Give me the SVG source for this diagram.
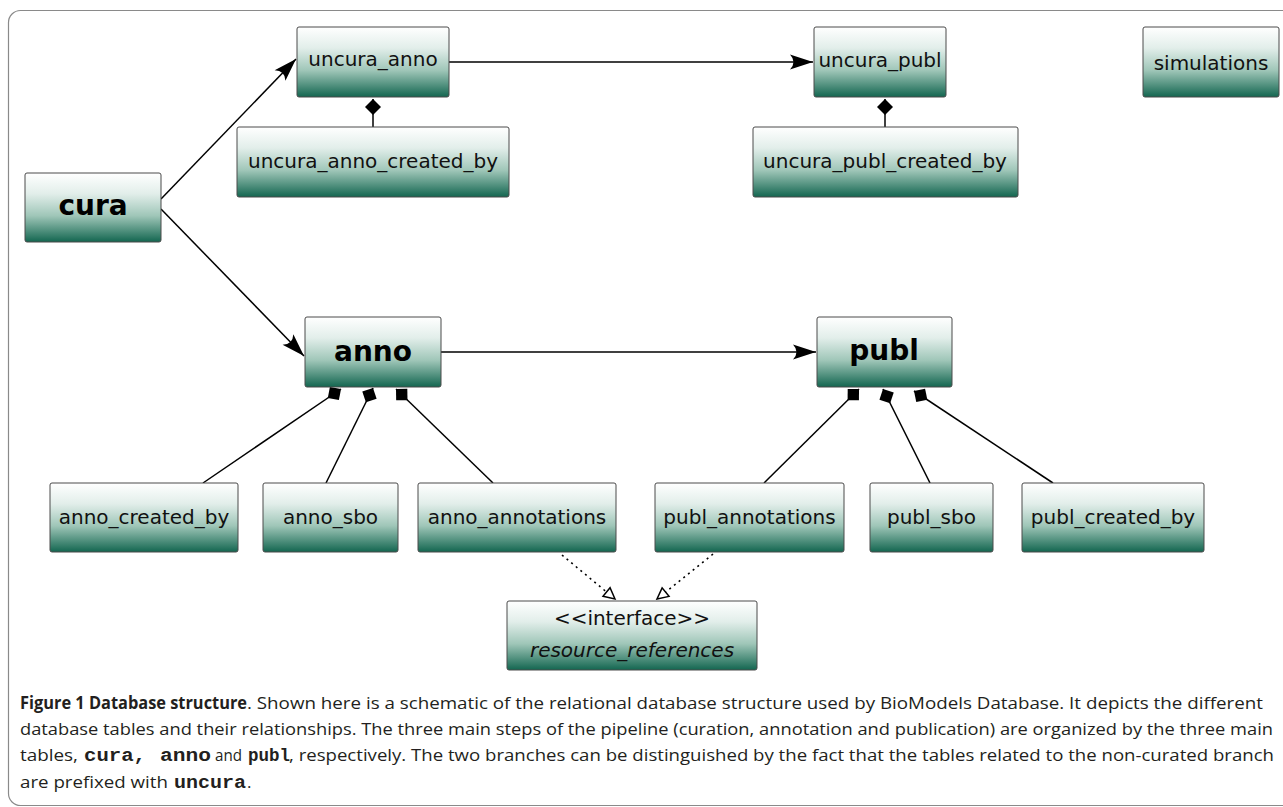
<svg xmlns="http://www.w3.org/2000/svg" width="1283" height="807" viewBox="0 0 1283 807">
<defs>
<linearGradient id="g" x1="0" y1="0" x2="0" y2="1">
<stop offset="0" stop-color="#ffffff"/>
<stop offset="0.3" stop-color="#e2eeea"/>
<stop offset="0.62" stop-color="#9fc6b8"/>
<stop offset="1" stop-color="#136650"/>
</linearGradient>
<marker id="arr" markerUnits="userSpaceOnUse" viewBox="-24 -9 26 18" refX="0" refY="0" markerWidth="26" markerHeight="18" orient="auto" overflow="visible">
<path d="M0,0 L-23,-7.5 Q-16,0 -23,7.5 Z" fill="#000"/>
</marker>
<marker id="dia" markerUnits="userSpaceOnUse" viewBox="-17 -9 18 18" refX="0" refY="0" markerWidth="18" markerHeight="18" orient="auto" overflow="visible">
<path d="M0,0 L-8,-8 L-16,0 L-8,8 Z" fill="#000"/>
</marker>
<marker id="tri" markerUnits="userSpaceOnUse" viewBox="-13 -7 14 14" refX="0" refY="0" markerWidth="14" markerHeight="14" orient="auto" overflow="visible">
<path d="M0,0 L-11,-5.5 L-11,5.5 Z" fill="#fff" stroke="#000" stroke-width="1.5" stroke-linejoin="miter"/>
</marker>
</defs>
<style>
.box{fill:url(#g);stroke:#4a4a4a;stroke-width:1}
.t{font-family:"DejaVu Sans",sans-serif;font-size:20px;fill:#111;text-anchor:middle}
.b{font-family:"DejaVu Sans",sans-serif;font-size:28px;font-weight:bold;fill:#000;text-anchor:middle}
.ln{fill:none;stroke:#000;stroke-width:1.5}
.dot{fill:none;stroke:#000;stroke-width:1.6;stroke-dasharray:2 4}
.cap{font-family:"Open Sans",sans-serif;font-size:17px;fill:#231f20}
.mono{font-family:"Liberation Mono",monospace;font-size:19px;font-weight:bold;fill:#231f20}
</style>
<rect x="8.5" y="10.5" width="1300" height="795" rx="12" fill="#fff" stroke="#8a8a8a" stroke-width="1.2"/>

<g id="connectors">
<line class="ln" x1="161" y1="199" x2="296" y2="59" marker-end="url(#arr)"/>
<line class="ln" x1="161" y1="209" x2="304" y2="356" marker-end="url(#arr)"/>
<line class="ln" x1="449" y1="62" x2="813" y2="62" marker-end="url(#arr)"/>
<line class="ln" x1="441" y1="352" x2="816" y2="352" marker-end="url(#arr)"/>
<line class="ln" x1="373" y1="127" x2="373" y2="99" marker-end="url(#dia)"/>
<line class="ln" x1="885" y1="127" x2="885" y2="99" marker-end="url(#dia)"/>
<line class="ln" x1="203" y1="483" x2="341" y2="389" marker-end="url(#dia)"/>
<line class="ln" x1="326" y1="483" x2="373" y2="388" marker-end="url(#dia)"/>
<line class="ln" x1="493" y1="483" x2="396" y2="389" marker-end="url(#dia)"/>
<line class="ln" x1="764" y1="483" x2="859" y2="389" marker-end="url(#dia)"/>
<line class="ln" x1="930" y1="483" x2="883" y2="389" marker-end="url(#dia)"/>
<line class="ln" x1="1053" y1="483" x2="914" y2="391" marker-end="url(#dia)"/>
<line class="dot" x1="562" y1="555" x2="615" y2="599" marker-end="url(#tri)"/>
<line class="dot" x1="713" y1="554" x2="657" y2="599" marker-end="url(#tri)"/>
</g>

<g id="uncura_anno"><rect class="box" x="297" y="27" width="152" height="70" rx="2"/><text class="t" x="373" y="66">uncura_anno</text></g>
<g id="uncura_publ"><rect class="box" x="814" y="27" width="132" height="70" rx="2"/><text class="t" x="880" y="67">uncura_publ</text></g>
<g id="simulations"><rect class="box" x="1143" y="27" width="136" height="70" rx="2"/><text class="t" x="1211" y="70">simulations</text></g>
<g id="uncura_anno_created_by"><rect class="box" x="237" y="127" width="272" height="70" rx="2"/><text class="t" x="373" y="168">uncura_anno_created_by</text></g>
<g id="uncura_publ_created_by"><rect class="box" x="753" y="127" width="265" height="70" rx="2"/><text class="t" x="885" y="168">uncura_publ_created_by</text></g>
<g id="cura"><rect class="box" x="25" y="173" width="136" height="69" rx="2"/><text class="b" x="93" y="215">cura</text></g>
<g id="anno"><rect class="box" x="305" y="317" width="136" height="70" rx="2"/><text class="b" x="373" y="361">anno</text></g>
<g id="publ"><rect class="box" x="817" y="317" width="135" height="70" rx="2"/><text class="b" x="884" y="360">publ</text></g>
<g id="anno_created_by"><rect class="box" x="50" y="483" width="188" height="69" rx="2"/><text class="t" x="144" y="524">anno_created_by</text></g>
<g id="anno_sbo"><rect class="box" x="263" y="483" width="135" height="69" rx="2"/><text class="t" x="330.5" y="524">anno_sbo</text></g>
<g id="anno_annotations"><rect class="box" x="418" y="483" width="198" height="69" rx="2"/><text class="t" x="517" y="524">anno_annotations</text></g>
<g id="publ_annotations"><rect class="box" x="655" y="483" width="189" height="69" rx="2"/><text class="t" x="749.5" y="524">publ_annotations</text></g>
<g id="publ_sbo"><rect class="box" x="870" y="483" width="123" height="69" rx="2"/><text class="t" x="931.5" y="524">publ_sbo</text></g>
<g id="publ_created_by"><rect class="box" x="1022" y="483" width="182" height="69" rx="2"/><text class="t" x="1113" y="524">publ_created_by</text></g>
<g id="resource_references"><rect class="box" x="507" y="601" width="250" height="69" rx="2"/><text class="t" x="632" y="625">&lt;&lt;interface&gt;&gt;</text><text class="t" x="632" y="657" font-style="italic">resource_references</text></g>

<g id="caption">
<text class="cap" x="20" y="709" font-weight="bold" textLength="227" lengthAdjust="spacingAndGlyphs">Figure 1 Database structure</text>
<text class="cap" x="247" y="709" textLength="1016" lengthAdjust="spacingAndGlyphs">. Shown here is a schematic of the relational database structure used by BioModels Database. It depicts the different</text>
<text class="cap" x="20" y="735" textLength="1253" lengthAdjust="spacingAndGlyphs">database tables and their relationships. The three main steps of the pipeline (curation, annotation and publication) are organized by the three main</text>
<text class="cap" x="20" y="761" textLength="58" lengthAdjust="spacingAndGlyphs">tables,</text>
<text class="mono" x="84" y="761" textLength="62" lengthAdjust="spacingAndGlyphs">cura,</text>
<text class="mono" x="160" y="761" textLength="51" lengthAdjust="spacingAndGlyphs">anno</text>
<text class="cap" x="215" y="761" textLength="27" lengthAdjust="spacingAndGlyphs">and</text>
<text class="mono" x="248" y="761" textLength="42" lengthAdjust="spacingAndGlyphs">publ</text>
<text class="cap" x="289" y="761" textLength="985" lengthAdjust="spacingAndGlyphs">, respectively. The two branches can be distinguished by the fact that the tables related to the non-curated branch</text>
<text class="cap" x="20" y="788" textLength="148" lengthAdjust="spacingAndGlyphs">are prefixed with</text>
<text class="mono" x="174" y="788" textLength="72" lengthAdjust="spacingAndGlyphs">uncura</text>
<text class="cap" x="247" y="788">.</text>
</g>
</svg>
